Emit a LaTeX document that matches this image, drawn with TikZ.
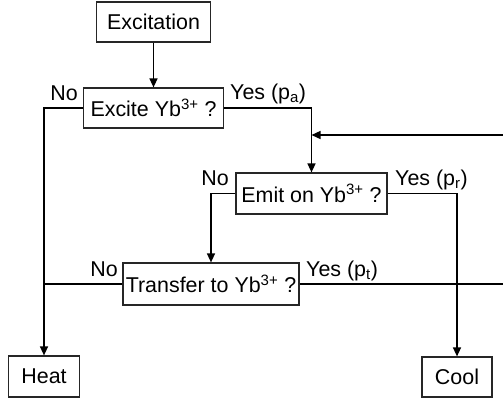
\documentclass[tikz,border=0pt]{standalone}
\usepackage{fontspec}
\setmainfont{Liberation Sans}
\usetikzlibrary{arrows.meta}
\begin{document}
\begin{tikzpicture}[x=1bp,y=-1bp,
  every node/.style={font=\fontsize{21.5}{25}\selectfont},
  box/.style={draw=black!85, line width=1.2bp, inner sep=0pt, align=center},
  conn/.style={line width=1.4bp, black},
  arr/.style={conn, -{Triangle[length=9bp,width=8bp]}},
  lbl/.style={inner sep=0pt}]
\useasboundingbox (0,0) rectangle (503,405);
\node[box, minimum width=114bp, minimum height=40bp] (exc) at (153.5,22) {Excitation};
\node[box, minimum width=140bp, minimum height=40bp] (excite) at (153.5,108) {Excite Yb\textsuperscript{3+} ?};
\node[box, minimum width=151bp, minimum height=41bp] (emit) at (311.5,193.5) {Emit on Yb\textsuperscript{3+} ?};
\node[box, minimum width=176bp, minimum height=42bp] (transfer) at (211,284) {Transfer to Yb\textsuperscript{3+} ?};
\node[box, minimum width=71bp, minimum height=41bp] (heat) at (44,376.5) {Heat};
\node[box, minimum width=70bp, minimum height=40bp] (cool) at (457,377) {Cool};
\coordinate (fbR) at (503,135);
\coordinate (trR) at (503,284);
% labels
\node[lbl, anchor=base east] (no1) at (78,100) {No};
\node[lbl, anchor=base west] (yes1) at (230,99) {Yes (p\textsubscript{a})};
\node[lbl, anchor=base east] (no2) at (229,185) {No};
\node[lbl, anchor=base west] (yes2) at (395,185) {Yes (p\textsubscript{r})};
\node[lbl, anchor=base east] (no3) at (118,276) {No};
\node[lbl, anchor=base west] (yes3) at (306,276) {Yes (p\textsubscript{t})};
% connectors
\draw[arr] (exc.south) -- (excite.north);
\draw[arr] (excite.west) -| (heat.north);
\draw[arr] (excite.east) -| (emit.north);
\draw[arr] (fbR) -- (fbR -| emit.north);
\draw[arr] (emit.west) -| (transfer.north);
\draw[arr] (emit.east) -| (cool.north);
\draw[conn] (transfer.west) -- (transfer.west -| heat.north);
\draw[conn] (transfer.east) -- (trR);
\end{tikzpicture}
\end{document}
